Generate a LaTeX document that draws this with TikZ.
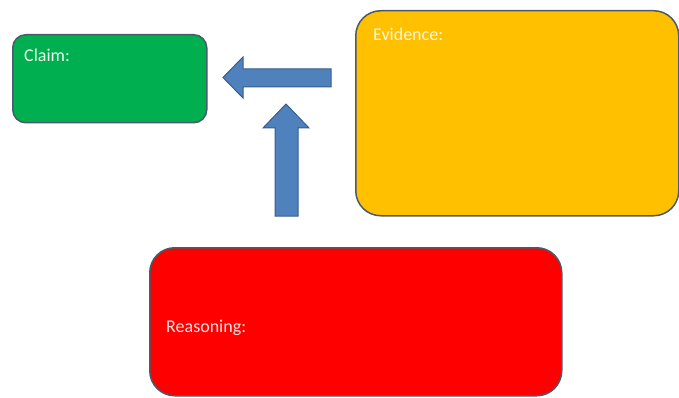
\documentclass[tikz,border=0pt]{standalone}
\usepackage{fontspec}
\setmainfont{Carlito}
\usetikzlibrary{positioning, calc}
\definecolor{claimgreen}{HTML}{00B050}
\definecolor{evidgold}{HTML}{FFC000}
\definecolor{reasonred}{HTML}{FF0000}
\definecolor{boxline}{HTML}{4A5A6E}
\definecolor{arrowblue}{HTML}{4F81BD}
\definecolor{arrowline}{HTML}{385D8A}

\begin{document}
\begin{tikzpicture}[x=1pt, y=-1pt,
    cerbox/.style={draw=boxline, line width=1.5pt, rectangle, anchor=north west, inner sep=0pt},
    boxtext/.style={font=\fontsize{18}{20}\selectfont, anchor=base west, inner sep=0pt},
    blockarrow/.style={fill=arrowblue, draw=arrowline, line width=1pt, line join=miter}]
    \useasboundingbox (0,0) rectangle (679,398);

    % Box 1 : Claim
    \node[cerbox, fill=claimgreen, rounded corners=13pt, minimum width=194pt, minimum height=88pt] (claim) at (12,34) {};
    \node[boxtext, text=white!92!claimgreen] (claimtxt) at ([xshift=12pt, yshift=-28pt]claim.north west) {Claim:};

    % Box 2 : Evidence
    \node[cerbox, fill=evidgold, rounded corners=25pt, minimum width=323pt, minimum height=205pt] (evidence) at (355,10) {};
    \node[boxtext, text=white!85!evidgold] (evidtxt) at ([xshift=18pt, yshift=-31pt]evidence.north west) {Evidence:};

    % Box 3 : Reasoning
    \node[cerbox, fill=reasonred, rounded corners=25pt, minimum width=412pt, minimum height=148pt] (reasoning) at (149,247) {};
    \node[boxtext, text=white!88!reasonred] (reasontxt) at ([xshift=17pt, yshift=-85pt]reasoning.north west) {Reasoning:};

    % --- block arrows: evidence -> claim, reasoning -> claim ---
    \draw[blockarrow] (331,69) -- (243,69) -- (243,57) -- (223,77.5) -- (243,98) -- (243,87) -- (331,87) -- cycle;
    \draw[blockarrow] (275,216) -- (275,128) -- (263,128) -- (286,104) -- (309,128) -- (298,128) -- (298,216) -- cycle;
\end{tikzpicture}
\end{document}
